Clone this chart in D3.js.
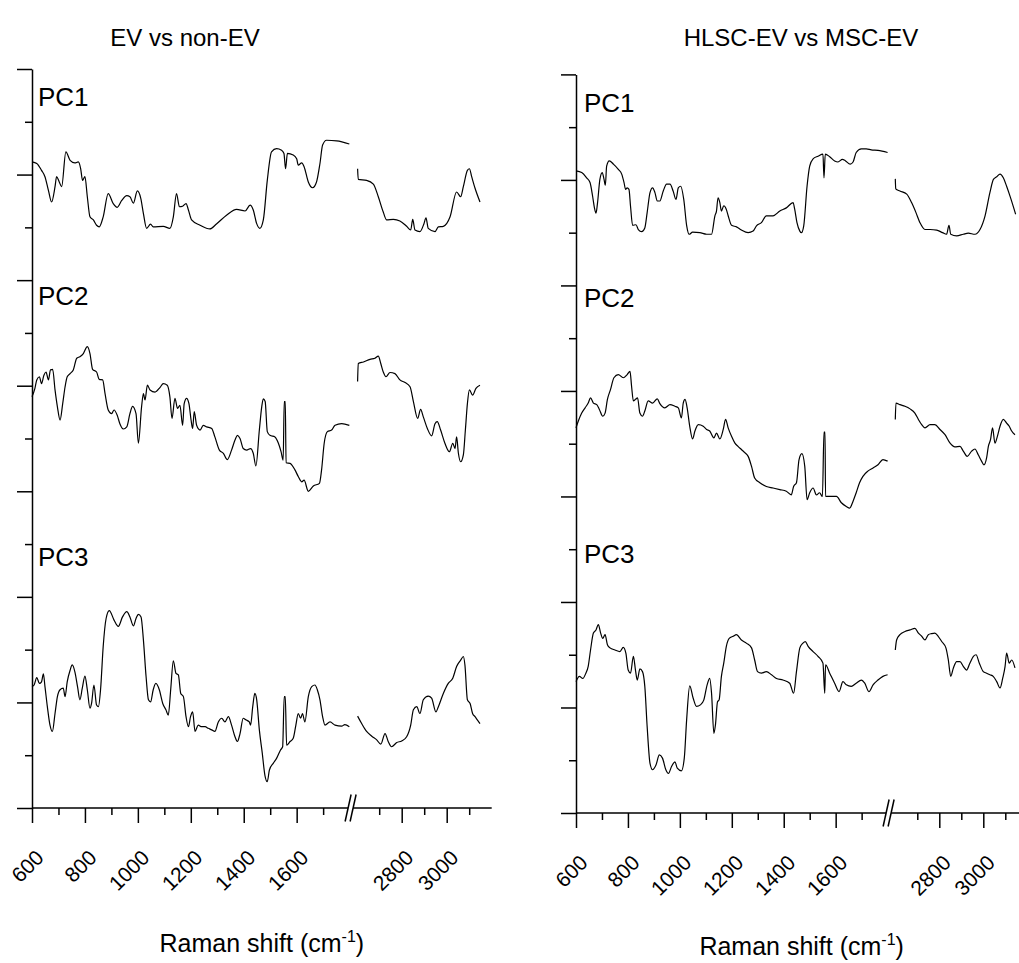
<!DOCTYPE html>
<html><head><meta charset="utf-8">
<script src="https://cdn.jsdelivr.net/npm/d3@7"></script>
<style>body{margin:0;background:#fff}svg{display:block}</style>
</head><body>
<script>
// ---------- categories / labels ----------
const panelTitles = ["EV vs non-EV", "HLSC-EV vs MSC-EV"];
const components = ["PC1", "PC2", "PC3"];
const majorTicks = [600, 800, 1000, 1200, 1400, 1600, 2800, 3000];
const minorTicks = [700, 900, 1100, 1300, 1500, 1700, 2700, 2900, 3100];
const xDomain = [600, 1800, 2600, 3200];   // broken axis: 600-1800 | 2600-3200
const xBreak = [1800, 2600];
const yTicks = d3.range(0, 15);
const offsetsLeft = [12, 8, 2];
const offsetsRight = [12, 8, 3];

// ---------- series: [Raman shift, loading] ----------
const evPC1 = [[600,0.24],[618,0.21],[636,0.08],[649,-0.04],[662,-0.30],[674,-0.52],[687,-0.23],[693,-0.04],[703,-0.14],[712,-0.23],[728,0.43],[744,0.27],[762,0.22],[775,0.24],[784,0.11],[791,-0.11],[800,-0.04],[809,-0.42],[819,-0.80],[832,-0.86],[844,-0.96],[854,-0.99],[869,-0.80],[888,-0.36],[907,-0.55],[922,-0.62],[939,-0.49],[958,-0.40],[970,-0.42],[983,-0.54],[998,-0.31],[1011,-0.45],[1021,-0.74],[1033,-1.02],[1048,-0.94],[1058,-0.99],[1096,-0.98],[1121,-1.02],[1134,-0.80],[1146,-0.36],[1157,-0.61],[1169,-0.60],[1182,-0.55],[1191,-0.67],[1203,-0.86],[1235,-0.96],[1272,-1.03],[1298,-0.93],[1335,-0.77],[1373,-0.66],[1405,-0.69],[1424,-0.58],[1436,-0.67],[1449,-0.93],[1461,-1.02],[1474,-0.86],[1489,-0.11],[1505,0.43],[1524,0.49],[1543,0.46],[1552,0.40],[1558,0.11],[1565,0.40],[1587,0.37],[1600,0.30],[1606,0.18],[1619,0.22],[1628,0.15],[1644,-0.14],[1660,-0.25],[1675,-0.14],[1688,0.21],[1698,0.56],[1713,0.65],[1751,0.64],[1799,0.58],
[2604,0.11],[2607,-0.09],[2644,-0.11],[2674,-0.18],[2696,-0.42],[2718,-0.71],[2733,-0.86],[2763,-0.85],[2792,-0.88],[2822,-0.98],[2840,-1.05],[2849,-0.85],[2859,-1.05],[2881,-1.08],[2899,-0.93],[2908,-0.82],[2918,-1.02],[2948,-1.08],[2963,-0.99],[2985,-0.98],[3015,-0.80],[3044,-0.33],[3062,-0.42],[3074,-0.23],[3092,0.08],[3101,0.11],[3111,-0.04],[3126,-0.26],[3148,-0.52]];

const evPC2 = [[600,-0.21],[611,-0.05],[618,0.11],[628,0.17],[636,0.04],[645,0.20],[653,0.26],[662,0.11],[670,0.30],[678,0.31],[687,-0.08],[696,-0.40],[706,-0.65],[716,-0.34],[725,-0.02],[733,0.17],[744,0.23],[756,0.30],[769,0.52],[781,0.55],[794,0.61],[809,0.74],[819,0.61],[829,0.31],[844,0.26],[854,0.12],[867,0.11],[876,-0.15],[888,-0.46],[901,-0.53],[910,-0.46],[922,-0.56],[932,-0.72],[945,-0.82],[958,-0.78],[970,-0.53],[980,-0.39],[993,-0.53],[1002,-1.09],[1014,-0.40],[1021,-0.15],[1027,-0.27],[1036,0.01],[1046,-0.08],[1065,-0.12],[1084,-0.03],[1096,0.04],[1111,0.01],[1121,-0.21],[1129,-0.62],[1140,-0.24],[1150,-0.43],[1159,-0.37],[1169,-0.75],[1175,-0.34],[1184,-0.24],[1193,-0.34],[1201,-0.65],[1207,-0.81],[1213,-0.49],[1222,-0.75],[1235,-0.84],[1247,-0.75],[1260,-0.78],[1279,-0.81],[1291,-0.97],[1308,-1.22],[1323,-1.28],[1338,-1.40],[1354,-1.22],[1367,-1.03],[1376,-0.94],[1386,-1.00],[1398,-1.19],[1411,-1.22],[1426,-1.19],[1436,-1.28],[1446,-1.52],[1459,-0.84],[1468,-0.40],[1474,-0.25],[1481,-0.30],[1489,-0.87],[1499,-0.94],[1518,-0.97],[1531,-1.09],[1541,-1.25],[1549,-1.41],[1553,-0.30],[1557,-0.30],[1560,-1.46],[1575,-1.47],[1594,-1.60],[1606,-1.72],[1619,-1.82],[1628,-1.79],[1644,-2.00],[1663,-1.90],[1686,-1.85],[1694,-1.60],[1704,-1.09],[1716,-0.87],[1732,-0.84],[1745,-0.75],[1770,-0.72],[1799,-0.75],
[2604,0.08],[2607,0.42],[2630,0.45],[2659,0.50],[2681,0.52],[2696,0.56],[2707,0.42],[2718,0.26],[2730,0.17],[2748,0.25],[2770,0.23],[2792,0.11],[2815,0.06],[2837,-0.02],[2852,-0.30],[2871,-0.62],[2884,-0.45],[2896,-0.59],[2914,-0.81],[2933,-0.95],[2948,-0.72],[2958,-0.68],[2973,-0.84],[2992,-1.09],[3012,-1.25],[3027,-1.09],[3037,-1.19],[3044,-0.97],[3052,-1.28],[3062,-1.44],[3074,-1.31],[3083,-0.84],[3092,-0.34],[3101,-0.08],[3115,-0.18],[3130,-0.05],[3148,0.01]];

const evPC3 = [[600,0.30],[608,0.33],[618,0.47],[628,0.36],[636,0.39],[643,0.54],[649,0.30],[658,-0.08],[668,-0.43],[677,-0.55],[687,-0.21],[696,0.11],[706,0.24],[718,0.27],[725,0.11],[733,0.39],[744,0.61],[752,0.71],[762,0.58],[772,0.30],[781,0.05],[790,0.27],[800,0.50],[809,0.24],[819,-0.11],[825,-0.02],[834,0.33],[844,-0.05],[851,-0.08],[859,0.24],[869,1.06],[880,1.59],[892,1.74],[910,1.56],[926,1.44],[942,1.62],[958,1.72],[970,1.62],[983,1.45],[993,1.59],[1002,1.67],[1012,1.62],[1021,1.18],[1031,0.49],[1040,0.05],[1048,0.01],[1058,0.24],[1068,0.36],[1081,0.24],[1094,-0.02],[1106,-0.14],[1115,-0.24],[1124,0.24],[1134,0.79],[1144,0.55],[1153,0.52],[1162,0.17],[1172,0.11],[1182,-0.27],[1191,-0.46],[1199,-0.27],[1207,-0.18],[1216,-0.55],[1228,-0.43],[1241,-0.46],[1254,-0.46],[1266,-0.49],[1279,-0.52],[1291,-0.55],[1304,-0.37],[1317,-0.30],[1329,-0.37],[1342,-0.27],[1354,-0.43],[1367,-0.65],[1376,-0.74],[1386,-0.59],[1398,-0.30],[1408,-0.33],[1421,-0.37],[1426,-0.43],[1434,-0.08],[1442,0.17],[1449,0.05],[1459,-0.52],[1470,-0.96],[1480,-1.38],[1489,-1.50],[1497,-1.28],[1512,-1.15],[1524,-1.06],[1539,-0.90],[1547,-0.84],[1553,0.11],[1557,0.11],[1562,-0.81],[1575,-0.74],[1587,-0.68],[1597,-0.43],[1606,-0.21],[1615,-0.30],[1622,-0.21],[1631,-0.37],[1644,0.11],[1657,0.30],[1669,0.33],[1678,0.24],[1688,0.05],[1698,-0.27],[1707,-0.43],[1726,-0.37],[1745,-0.43],[1770,-0.45],[1782,-0.42],[1799,-0.46],
[2604,-0.26],[2622,-0.40],[2644,-0.55],[2667,-0.64],[2689,-0.71],[2707,-0.79],[2726,-0.59],[2740,-0.74],[2755,-0.84],[2778,-0.76],[2800,-0.73],[2822,-0.65],[2840,-0.43],[2852,-0.14],[2867,-0.08],[2881,-0.21],[2896,0.05],[2918,0.12],[2933,0.08],[2952,-0.18],[2963,-0.08],[2985,0.17],[3007,0.36],[3027,0.46],[3044,0.68],[3062,0.80],[3074,0.87],[3081,0.71],[3092,0.05],[3104,-0.02],[3115,-0.21],[3126,-0.27],[3136,-0.33],[3148,-0.40]];

const mscPC1 = [[600,0.17],[622,0.14],[641,0.04],[654,-0.05],[664,-0.31],[671,-0.53],[677,-0.63],[683,-0.43],[692,0.01],[701,0.14],[708,0.01],[713,-0.10],[718,0.26],[728,0.36],[744,0.30],[763,0.20],[776,0.11],[785,-0.05],[791,-0.18],[797,-0.15],[804,-0.18],[810,-0.50],[818,-0.86],[831,-0.85],[840,-0.94],[853,-0.98],[865,-0.91],[874,-0.62],[885,-0.24],[895,-0.15],[904,-0.24],[913,-0.40],[923,-0.40],[936,-0.21],[949,-0.08],[962,-0.08],[974,-0.21],[985,-0.37],[994,-0.15],[1003,-0.12],[1015,-0.37],[1026,-0.86],[1036,-1.03],[1049,-0.99],[1077,-1.00],[1103,-1.03],[1122,-1.03],[1135,-0.68],[1141,-0.59],[1147,-0.34],[1154,-0.43],[1160,-0.59],[1169,-0.49],[1179,-0.56],[1186,-0.68],[1199,-0.86],[1218,-0.89],[1237,-0.95],[1263,-1.00],[1282,-0.97],[1295,-0.87],[1314,-0.81],[1333,-0.68],[1359,-0.68],[1385,-0.59],[1410,-0.53],[1436,-0.43],[1442,-0.55],[1451,-0.81],[1462,-0.97],[1468,-1.00],[1477,-0.87],[1490,-0.11],[1500,0.26],[1513,0.40],[1532,0.45],[1551,0.49],[1555,0.04],[1560,0.49],[1577,0.44],[1596,0.36],[1609,0.34],[1626,0.39],[1638,0.36],[1656,0.30],[1667,0.34],[1679,0.52],[1699,0.59],[1718,0.59],[1737,0.57],[1763,0.56],[1800,0.52],
[2600,0.02],[2602,-0.17],[2621,-0.21],[2652,-0.27],[2674,-0.43],[2694,-0.62],[2712,-0.81],[2735,-0.94],[2758,-0.94],[2788,-0.95],[2815,-1.00],[2833,-1.03],[2844,-0.86],[2852,-1.03],[2879,-1.06],[2909,-1.03],[2932,-1.01],[2962,-1.03],[2985,-0.94],[3008,-0.68],[3030,-0.24],[3046,0.01],[3061,0.06],[3076,0.11],[3091,0.04],[3106,-0.12],[3124,-0.34],[3147,-0.65]];

const mscPC2 = [[600,-0.70],[609,-0.57],[622,-0.42],[635,-0.32],[647,-0.23],[656,-0.13],[667,-0.23],[680,-0.26],[690,-0.35],[703,-0.48],[712,-0.42],[721,-0.16],[733,0.03],[746,0.25],[763,0.31],[782,0.25],[797,0.31],[808,0.37],[814,0.09],[821,-0.19],[829,-0.16],[837,-0.13],[846,-0.42],[856,-0.48],[865,-0.38],[878,-0.19],[895,-0.23],[913,-0.15],[923,-0.24],[942,-0.32],[962,-0.26],[981,-0.29],[994,-0.32],[1006,-0.51],[1013,-0.23],[1020,-0.16],[1028,-0.32],[1038,-0.67],[1049,-0.91],[1058,-0.76],[1071,-0.64],[1090,-0.67],[1103,-0.73],[1115,-0.76],[1131,-0.89],[1141,-0.80],[1154,-0.91],[1167,-0.73],[1176,-0.54],[1186,-0.70],[1199,-0.86],[1212,-0.99],[1224,-1.05],[1237,-1.11],[1250,-1.17],[1263,-1.24],[1276,-1.43],[1288,-1.65],[1308,-1.74],[1333,-1.81],[1359,-1.84],[1385,-1.87],[1410,-1.90],[1429,-1.97],[1438,-1.81],[1449,-1.74],[1459,-1.30],[1470,-1.19],[1481,-1.43],[1490,-2.06],[1500,-1.93],[1513,-1.84],[1526,-1.97],[1538,-1.93],[1549,-2.00],[1555,-0.78],[1559,-0.78],[1561,-2.00],[1577,-2.00],[1603,-2.00],[1622,-2.12],[1641,-2.19],[1654,-2.22],[1667,-2.09],[1679,-1.93],[1692,-1.74],[1705,-1.62],[1724,-1.52],[1744,-1.46],[1763,-1.40],[1782,-1.30],[1800,-1.33],
[2600,-0.54],[2603,-0.23],[2621,-0.26],[2644,-0.29],[2667,-0.34],[2689,-0.42],[2705,-0.54],[2720,-0.64],[2735,-0.70],[2758,-0.64],[2780,-0.64],[2803,-0.73],[2826,-0.83],[2849,-0.99],[2871,-1.06],[2894,-1.05],[2909,-1.14],[2927,-1.24],[2947,-1.14],[2962,-1.10],[2977,-1.21],[2992,-1.33],[3003,-1.40],[3015,-1.27],[3023,-1.05],[3033,-0.92],[3042,-0.70],[3053,-0.99],[3064,-0.86],[3076,-0.67],[3091,-0.54],[3106,-0.61],[3118,-0.67],[3129,-0.76],[3144,-0.83]];

const mscPC3 = [[600,-0.51],[613,-0.41],[626,-0.45],[638,-0.35],[647,-0.22],[656,0.09],[667,0.41],[677,0.47],[686,0.57],[695,0.41],[703,0.31],[712,0.38],[721,0.19],[731,0.13],[750,0.09],[769,0.06],[782,0.14],[792,0.03],[801,-0.29],[810,-0.35],[821,-0.03],[829,-0.29],[836,-0.48],[846,-0.27],[856,-0.32],[865,-0.60],[874,-1.36],[885,-2.06],[895,-2.18],[908,-2.09],[921,-1.90],[933,-1.96],[946,-2.18],[956,-2.25],[968,-2.12],[981,-2.03],[990,-2.15],[1006,-2.20],[1017,-1.96],[1026,-1.24],[1038,-0.59],[1051,-0.82],[1064,-0.98],[1079,-0.95],[1092,-0.86],[1105,-0.57],[1115,-0.45],[1122,-0.73],[1131,-1.49],[1137,-1.33],[1145,-0.89],[1151,-0.86],[1160,-0.41],[1169,-0.16],[1179,0.16],[1190,0.31],[1205,0.35],[1218,0.38],[1237,0.28],[1256,0.22],[1276,0.13],[1288,-0.10],[1299,-0.32],[1314,-0.35],[1333,-0.32],[1353,-0.38],[1372,-0.45],[1397,-0.48],[1423,-0.54],[1438,-0.73],[1449,-0.32],[1462,0.13],[1474,0.22],[1483,0.25],[1494,0.16],[1513,0.06],[1532,-0.03],[1551,-0.16],[1558,-0.73],[1561,-0.19],[1577,-0.35],[1596,-0.54],[1613,-0.70],[1628,-0.51],[1641,-0.57],[1660,-0.60],[1679,-0.54],[1699,-0.48],[1712,-0.54],[1728,-0.70],[1744,-0.57],[1763,-0.48],[1782,-0.41],[1800,-0.38],
[2600,0.09],[2606,0.28],[2621,0.38],[2644,0.44],[2667,0.47],[2689,0.50],[2705,0.41],[2720,0.35],[2735,0.28],[2750,0.38],[2765,0.40],[2780,0.41],[2795,0.35],[2811,0.25],[2830,0.13],[2841,-0.10],[2852,-0.41],[2864,-0.25],[2879,-0.13],[2894,-0.13],[2909,-0.22],[2924,-0.29],[2939,-0.16],[2955,-0.03],[2967,0.00],[2982,-0.16],[3000,-0.32],[3015,-0.35],[3030,-0.38],[3045,-0.41],[3061,-0.51],[3076,-0.63],[3088,-0.45],[3099,-0.22],[3106,0.03],[3118,-0.16],[3129,-0.10],[3144,-0.25]];

// ---------- layout ----------
const W = 1019, H = 963;
const FONT = "'Liberation Sans', Arial, Helvetica, sans-serif";
const panels = [
  { title: panelTitles[0], series: [evPC1, evPC2, evPC3], offsets: offsetsLeft,
    xr: [32, 349.6, 356.7, 491.7], yr: [808, 69], titleX: 185, titleY: 46,
    pcX: 38, pcY: [106, 305, 566], labelY: 952 },
  { title: panelTitles[1], series: [mscPC1, mscPC2, mscPC3], offsets: offsetsRight,
    xr: [576, 887.6, 895.3, 1027.3], yr: [813, 74.4], titleX: 801, titleY: 46,
    pcX: 584, pcY: [112, 307, 563], labelY: 955 }
];

const svg = d3.select("body").append("svg").attr("width", W).attr("height", H)
  .style("font-family", FONT);
svg.append("rect").attr("width", W).attr("height", H).attr("fill", "#fff");

panels.forEach(p => {
  const x = d3.scaleLinear().domain(xDomain).range(p.xr);
  const y = d3.scaleLinear().domain([0, 14]).range(p.yr);
  const g = svg.append("g");
  const x0 = x(xDomain[0]), y0 = y(0);

  // y axis
  const gy = g.append("g").attr("transform", `translate(${x0},0)`)
    .call(d3.axisLeft(y).tickValues(yTicks).tickSize(7).tickSizeOuter(0).tickFormat(""));
  gy.selectAll(".tick line").attr("x2", d => d % 2 === 0 ? -15 : -7);
  gy.selectAll("path,line").attr("stroke", "#000").attr("stroke-width", 1.5);

  // x axis ticks
  const gx = g.append("g").attr("transform", `translate(0,${y0})`)
    .call(d3.axisBottom(x).tickValues(majorTicks.concat(minorTicks)).tickSize(7).tickSizeOuter(0).tickFormat(""));
  gx.select(".domain").remove();
  gx.selectAll(".tick line").attr("y2", d => majorTicks.includes(d) ? 15 : 7)
    .attr("stroke", "#000").attr("stroke-width", 1.5);

  // x axis line with break marks
  const bx = x(xBreak[0]);
  const c1 = bx - 1.5, c2 = bx + 3.5;
  g.append("line").attr("x1", x0).attr("x2", c1).attr("y1", y0).attr("y2", y0)
    .attr("stroke", "#000").attr("stroke-width", 1.5);
  g.append("line").attr("x1", c2).attr("x2", x(xDomain[3])).attr("y1", y0).attr("y2", y0)
    .attr("stroke", "#000").attr("stroke-width", 1.5);
  [c1, c2].forEach(c => {
    g.append("line").attr("x1", c - 3).attr("y1", y0 + 13.5).attr("x2", c + 3).attr("y2", y0 - 13.5)
      .attr("stroke", "#000").attr("stroke-width", 1.5);
  });

  // tick labels
  g.selectAll(".xl").data(majorTicks).join("text")
    .attr("transform", d => `translate(${x(d) + 13},${y0 + 51}) rotate(-45)`)
    .attr("text-anchor", "end").attr("font-size", 21).attr("fill", "#000")
    .text(d => d);

  // axis label
  const lab = g.append("text").attr("x", (x(xDomain[0]) + x(xDomain[3])) / 2).attr("y", p.labelY)
    .attr("text-anchor", "middle").attr("font-size", 25).attr("fill", "#000");
  lab.append("tspan").text("Raman shift (cm");
  lab.append("tspan").attr("font-size", 16).attr("dy", -10).text("-1");
  lab.append("tspan").attr("dy", 10).text(")");

  // title
  g.append("text").attr("x", p.titleX).attr("y", p.titleY).attr("text-anchor", "middle")
    .attr("font-size", 24).attr("fill", "#000").text(p.title);

  // curves
  const line = d3.line().x(d => x(d[0])).y(d => y(d[1])).curve(d3.curveMonotoneX);
  p.series.forEach((s, i) => {
    const off = p.offsets[i];
    const shifted = s.map(d => [d[0], d[1] + off]);
    const low = shifted.filter(d => d[0] <= xBreak[0]);
    const high = shifted.filter(d => d[0] >= xBreak[1]);
    [low, high].forEach(seg => {
      g.append("path").datum(seg).attr("d", line)
        .attr("fill", "none").attr("stroke", "#000").attr("stroke-width", 1.2)
        .attr("stroke-linejoin", "round");
    });
    g.append("text").attr("x", p.pcX).attr("y", p.pcY[i]).attr("font-size", 26)
      .attr("fill", "#000").text(components[i]);
  });
});
</script>
</body></html>
